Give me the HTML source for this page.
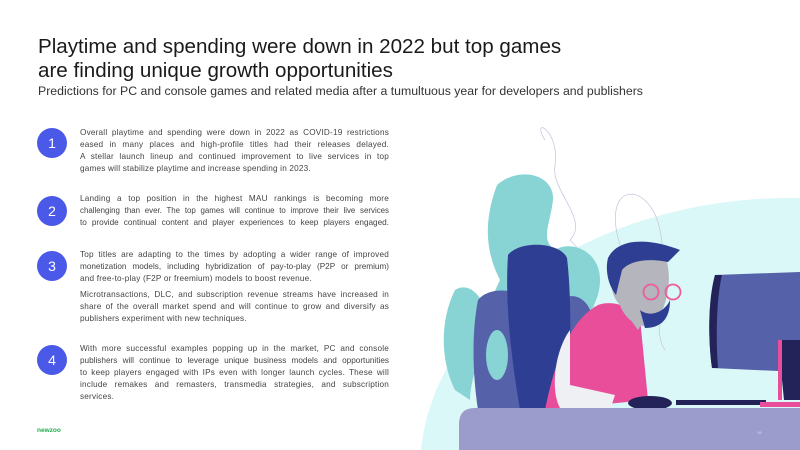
<!DOCTYPE html>
<html style="overflow:hidden"><head><style>
html,body{margin:0;width:800px;height:450px;overflow:hidden}
body{background:#fff;font-family:"Liberation Sans",sans-serif;position:relative}
.t{position:absolute;left:38px;font-size:20.6px;color:#1a1a1a;line-height:24px}
.s{position:absolute;left:38px;top:84px;font-size:12.3px;color:#333}
.p{position:absolute;left:80px;width:309px;font-size:8.2px;letter-spacing:0.2px;line-height:12px;color:#444}
.p div{white-space:nowrap;text-align:justify;text-align-last:justify;height:12px}
.p div.l{text-align-last:left}
.p div.n{letter-spacing:0}
.p div.x{letter-spacing:0;font-size:7.9px}
.c{position:absolute;left:37px;width:30px;height:30px;border-radius:50%;background:#4b59e8;color:#fff;font-size:14px;line-height:30px;text-align:center}
</style></head><body>
<div class="t" style="top:35px">Playtime and spending were down in 2022 but top games<br>are finding unique growth opportunities</div>
<div class="s">Predictions for PC and console games and related media after a tumultuous year for developers and publishers</div>
<div class="c" style="top:128px">1</div>
<div class="c" style="top:196px">2</div>
<div class="c" style="top:251px">3</div>
<div class="c" style="top:345px">4</div>
<div class="p" style="top:127px"><div>Overall playtime and spending were down in 2022 as COVID-19 restrictions</div><div>eased in many places and high-profile titles had their releases delayed.</div><div>A stellar launch lineup and continued improvement to live services in top</div><div class="l">games will stabilize playtime and increase spending in 2023.</div></div>
<div class="p" style="top:193px"><div>Landing a top position in the highest MAU rankings is becoming more</div><div class="x">challenging than ever. The top games will continue to improve their live services</div><div class="n">to provide continual content and player experiences to keep players engaged.</div></div>
<div class="p" style="top:249px"><div>Top titles are adapting to the times by adopting a wider range of improved</div><div class="n">monetization models, including hybridization of pay-to-play (P2P or premium)</div><div class="l">and free-to-play (F2P or freemium) models to boost revenue.</div></div>
<div class="p" style="top:289px"><div>Microtransactions, DLC, and subscription revenue streams have increased in</div><div>share of the overall market spend and will continue to grow and diversify as</div><div class="l">publishers experiment with new techniques.</div></div>
<div class="p" style="top:343px"><div>With more successful examples popping up in the market, PC and console</div><div class="n">publishers will continue to leverage unique business models and opportunities</div><div>to keep players engaged with IPs even with longer launch cycles. These will</div><div>include remakes and remasters, transmedia strategies, and subscription</div><div class="l">services.</div></div>
<div style="position:absolute;left:37px;top:427px;font-size:6.5px;font-weight:bold;color:#1fae4b">newzoo</div>
<svg style="position:absolute;left:0;top:0;overflow:hidden" width="800" height="450">
<ellipse cx="790" cy="470" rx="370" ry="272" fill="#d9f8f7"/>
<path d="M545 140 C530 115 560 130 555 165 C550 190 590 220 570 240 C590 260 600 280 590 330" fill="none" stroke="#c9c9e0" stroke-width="0.8"/>
<path d="M620 245 C600 180 650 180 660 230 C670 280 650 330 665 350" fill="none" stroke="#c9c9e0" stroke-width="0.8"/>
<path d="M497 185 C520 165 555 175 553 200 C550 225 540 240 555 250 C570 240 600 250 600 280 C600 310 575 330 560 350 L500 360 C480 330 490 300 500 280 C490 260 480 230 497 185Z" fill="#88d3d3"/>
<path d="M455 290 C470 280 490 300 485 330 C480 360 470 380 470 400 L455 390 C440 360 440 320 455 290Z" fill="#88d3d3"/>
<path d="M478 300 C490 285 520 290 530 300 L560 300 C575 290 590 300 593 320 L595 410 L478 410 C472 370 472 330 478 300Z" fill="#5561a8"/>
<path d="M508 255 C520 240 560 242 567 258 C572 300 570 350 570 410 L520 410 C510 350 505 300 508 255Z" fill="#2e3e92"/>
<ellipse cx="497" cy="355" rx="11" ry="25" fill="#88d3d3"/>
<path d="M598 305 C610 300 630 305 640 318 L648 400 L545 410 C555 360 570 320 598 305Z" fill="#e94e9a"/>
<path d="M570 330 C555 350 550 390 560 408 L610 410 L615 395 L570 385Z" fill="#eef0f4"/>
<path d="M620 305 L640 290 L650 310 L638 330Z" fill="#b5b5bd"/>
<path d="M612 265 C615 245 650 240 665 255 C672 275 670 300 655 325 C640 330 625 320 620 305 C610 295 610 280 612 265Z" fill="#b5b5bd"/>
<path d="M608 258 C620 235 655 240 680 250 L668 262 C650 258 630 260 622 270 L616 295 C608 285 605 270 608 258Z" fill="#2e3e92"/>
<path d="M640 310 C650 318 665 312 670 300 C670 320 660 328 645 328Z" fill="#2e3e92"/>
<circle cx="651" cy="292" r="7.5" fill="none" stroke="#ef5c9c" stroke-width="1.8"/>
<circle cx="673" cy="292" r="7.5" fill="none" stroke="#ef5c9c" stroke-width="1.8"/>
<path d="M715 275 L800 272 L800 372 L712 368 C708 340 708 300 715 275Z" fill="#5561a8"/>
<path d="M715 275 L722 275 C716 300 716 340 718 368 L712 368 C708 340 708 300 715 275Z" fill="#23235a"/>
<path d="M778 340 L800 340 L800 400 L784 400Z" fill="#23235a"/>
<rect x="778" y="340" width="4" height="60" fill="#e94e9a"/>
<rect x="676" y="400" width="90" height="5" fill="#23235a"/>
<rect x="760" y="402" width="40" height="5" fill="#e94e9a"/>
<ellipse cx="650" cy="403" rx="22" ry="7" fill="#23235a"/>
<path d="M475 408 L800 408 L800 450 L459 450 L459 424 Q459 408 475 408Z" fill="#9c9ccc"/>
<text x="757" y="434" font-size="4" fill="#dde">19</text>
</svg>
</body></html>
